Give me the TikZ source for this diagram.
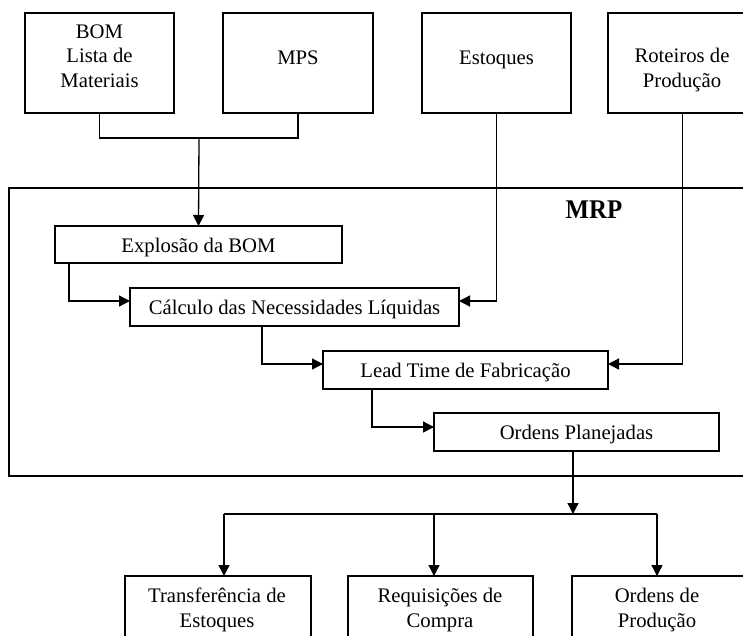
\documentclass[tikz,border=0pt]{standalone}
\usepackage{fontspec}
\setmainfont{Liberation Serif}
\usetikzlibrary{arrows.meta}
\begin{document}
\begin{tikzpicture}[x=1pt,y=-1pt,
  every node/.style={inner sep=0pt,outer sep=0pt},
  box/.style={draw,line width=1.3pt,rectangle},
  txt/.style={anchor=base,align=center,font=\fontsize{20.7}{24.5}\selectfont},
  conn/.style={line width=1.3pt},
  arr/.style={conn,-{Triangle[length=11pt,width=11pt]}}]
\useasboundingbox (0,0) rectangle (743,635);
\clip (0,0) rectangle (743,635);
% top boxes
\node[box,minimum width=149,minimum height=100] (bom) at (99.5,63) {};
\node[txt] (bomt) at (99.5,87) {BOM\\Lista de\\Materiais};
\node[box,minimum width=150,minimum height=100] (mps) at (298,63) {};
\node[txt] (mpst) at (298,64) {MPS};
\node[box,minimum width=149,minimum height=100] (est) at (496.5,63) {};
\node[txt] (estt) at (496.5,64) {Estoques};
\node[box,minimum width=149,minimum height=100] (rot) at (682.5,63) {};
\node[txt] (rott) at (682,87) {Roteiros de\\Produção};
% MRP container
\node[box,minimum width=761,minimum height=288] (mrp) at (389.5,332) {};
\node[anchor=base,font=\fontsize{27}{30}\selectfont\bfseries] (mrpt) at (594,218) {\scalebox{0.92}[1]{MRP}};
% inner boxes
\node[box,minimum width=287,minimum height=37] (expl) at (198.5,244.5) {};
\node[txt] (explt) at (198.5,252) {Explosão da BOM};
\node[box,minimum width=329,minimum height=38] (calc) at (294.5,307) {};
\node[txt] (calct) at (294.5,314) {Cálculo das Necessidades Líquidas};
\node[box,minimum width=285,minimum height=38] (lead) at (465.5,370) {};
\node[txt] (leadt) at (465.5,377) {Lead Time de Fabricação};
\node[box,minimum width=285,minimum height=38] (ordp) at (576.5,432) {};
\node[txt] (ordpt) at (576.5,439) {Ordens Planejadas};
% bottom boxes
\node[box,minimum width=186,minimum height=84] (tr) at (218,618) {};
\node[txt] (trt) at (217,627) {Transferência de\\Estoques};
\node[box,minimum width=185,minimum height=84] (rq) at (440.5,618) {};
\node[txt] (rqt) at (440,627) {Requisições de\\Compra};
\node[box,minimum width=172,minimum height=84] (op) at (658,618) {};
\node[txt] (opt) at (657,627) {Ordens de\\Produção};
% connectors
\coordinate (j1) at (199,138);
\draw[conn] (bom.south) |- (j1) -| (mps.south);
\draw[arr] (j1) -- (expl.north);
\draw[arr] ([xshift=14pt]expl.south west) |- ([yshift=6pt]calc.west);
\draw[arr] (est.south) |- ([yshift=6pt]calc.east);
\draw[arr] ([xshift=132pt]calc.south west) |- ([yshift=6pt]lead.west);
\draw[arr] (rot.south) |- ([yshift=6pt]lead.east);
\draw[arr] ([xshift=49pt]lead.south west) |- ([yshift=5pt]ordp.west);
\coordinate (j2) at (573,514);
\coordinate (b1) at (224,514);
\coordinate (b2) at (434,514);
\coordinate (b3) at (657,514);
\draw[arr] ([xshift=139pt]ordp.south west) -- (j2);
\draw[conn] (b1) -- (b3);
\draw[arr] (b1) -- (b1 |- tr.north);
\draw[arr] (b2) -- (b2 |- rq.north);
\draw[arr] (b3) -- (b3 |- op.north);
\end{tikzpicture}
\end{document}
